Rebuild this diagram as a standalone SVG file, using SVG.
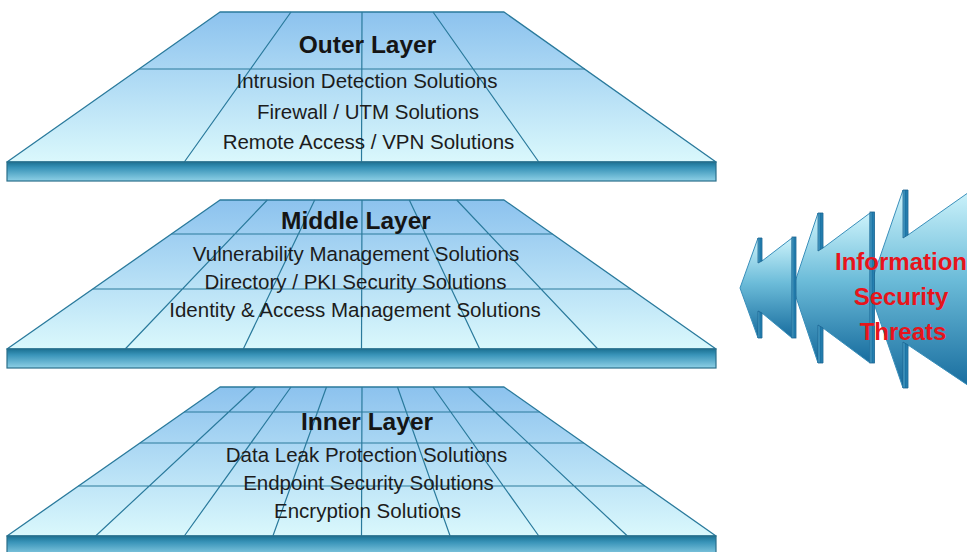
<svg xmlns="http://www.w3.org/2000/svg" width="967" height="552" viewBox="0 0 967 552">
<defs>
<linearGradient id="gTrap" x1="0" y1="0" x2="0" y2="1">
<stop offset="0" stop-color="#8cc2ee"/>
<stop offset="1" stop-color="#daf8fc"/>
</linearGradient>
<linearGradient id="gSlab" x1="0" y1="0" x2="0" y2="1">
<stop offset="0" stop-color="#1b7193"/>
<stop offset="0.3" stop-color="#3893b8"/>
<stop offset="1" stop-color="#8ed0e6"/>
</linearGradient>
<linearGradient id="gArrow" x1="0" y1="0" x2="0" y2="1">
<stop offset="0" stop-color="#cdf3fb"/>
<stop offset="0.45" stop-color="#6cbcd9"/>
<stop offset="1" stop-color="#176c9e"/>
</linearGradient>
<linearGradient id="gStrip" x1="0" y1="0" x2="1" y2="0">
<stop offset="0" stop-color="#5fb3d6"/>
<stop offset="0.5" stop-color="#1d74a5"/>
<stop offset="1" stop-color="#2a88b8"/>
</linearGradient>
</defs>
<style>
.trap{fill:url(#gTrap);stroke:#2a7a9c;stroke-width:1.3;stroke-linejoin:round}
.grid{fill:none;stroke:#2a7a9c;stroke-width:1.2}
.slab{fill:url(#gSlab);stroke:#2b6f8a;stroke-width:1.2}
.title{font-family:"Liberation Sans",Arial,sans-serif;font-weight:bold;font-size:24.5px;fill:#151515;text-anchor:middle}
.item{font-family:"Liberation Sans",Arial,sans-serif;font-size:20.5px;fill:#1c1c1c;text-anchor:middle}
.face{fill:url(#gArrow);stroke:#3a8fba;stroke-width:1}
.strip{fill:url(#gStrip);stroke:#1a6390;stroke-width:0.8}
.threat{font-family:"Liberation Sans",Arial,sans-serif;font-weight:bold;font-size:24px;fill:#e8141b;text-anchor:middle}
</style>
<rect width="967" height="552" fill="#ffffff"/>

<g id="outer-layer">
<polygon class="trap" points="220,12 504,12 716,162 7,162"/>
<path class="grid" d="M139,69 H585 M291,12 L184.3,162 M362,12 L361.5,162 M433,12 L538.8,162"/>
<rect class="slab" x="7" y="162" width="709" height="19"/>
<text class="title" x="367.5" y="53">Outer Layer</text>
<text class="item" x="367" y="88">Intrusion Detection Solutions</text>
<text class="item" x="368" y="119">Firewall / UTM Solutions</text>
<text class="item" x="368.5" y="149">Remote Access / VPN Solutions</text>
</g>

<g id="middle-layer">
<polygon class="trap" points="220,200 504,200 716,349 7,349"/>
<path class="grid" d="M171.4,234 H552.4 M92.8,289 H630.6 M267.3,200 L125.2,349 M314.7,200 L243.3,349 M362,200 L361.5,349 M409.3,200 L479.7,349 M456.7,200 L597.8,349"/>
<rect class="slab" x="7" y="349" width="709" height="19"/>
<text class="title" x="356" y="229">Middle Layer</text>
<text class="item" x="356" y="261">Vulnerability Management Solutions</text>
<text class="item" x="355.5" y="289">Directory / PKI Security Solutions</text>
<text class="item" x="355" y="317">Identity &amp; Access Management Solutions</text>
</g>

<g id="inner-layer">
<polygon class="trap" points="220,387 504,387 716,536 7,536"/>
<path class="grid" d="M184.2,412 H539.6 M139.9,443 H583.7 M78.5,486 H644.8 M255.5,387 L95.6,536 M291,387 L184.3,536 M326.5,387 L272.9,536 M362,387 L361.5,536 M397.5,387 L450.1,536 M433,387 L538.8,536 M468.5,387 L627.4,536"/>
<rect class="slab" x="7" y="536" width="709" height="20"/>
<text class="title" x="367" y="430">Inner Layer</text>
<text class="item" x="366.5" y="462">Data Leak Protection Solutions</text>
<text class="item" x="368.5" y="490">Endpoint Security Solutions</text>
<text class="item" x="367.5" y="518">Encryption Solutions</text>
</g>

<g id="threat-arrows">
<g id="arrow-large">
<polygon class="face" points="869,289 903,190 908,235 972,190 972,388 908,345 903,388"/>
<polygon class="strip" points="903,190 908,190 908,235 903,238"/>
<polygon class="strip" points="903,342 908,345 908,388 903,388"/>
</g>
<g id="arrow-medium">
<polygon class="face" points="793,288 818,213 823,248 870,213 870,363 823,328 818,363"/>
<polygon class="strip" points="818,213 823,213 823,248 818,251"/>
<polygon class="strip" points="818,325 823,328 823,363 818,363"/>
<rect class="strip" x="870" y="212" width="4.5" height="151"/>
</g>
<g id="arrow-small">
<polygon class="face" points="740,288 758,238 762,261 792,238 792,338 762,313 758,338"/>
<polygon class="strip" points="758,238 762,238 762,261 758,263"/>
<polygon class="strip" points="758,311 762,313 762,338 758,338"/>
<rect class="strip" x="792" y="237" width="4" height="101"/>
</g>
<text class="threat" x="901" y="270">Information</text>
<text class="threat" x="901" y="305">Security</text>
<text class="threat" x="903" y="340">Threats</text>
</g>
</svg>
